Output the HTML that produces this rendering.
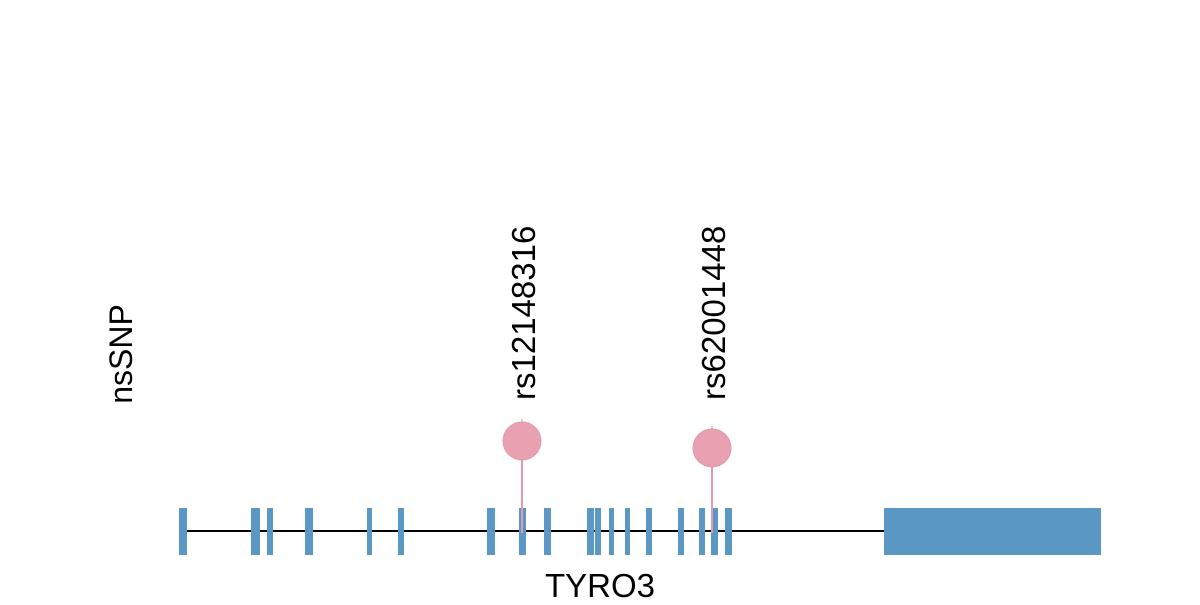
<!DOCTYPE html>
<html><head><meta charset="utf-8"><style>html,body{margin:0;padding:0;background:#fff;}</style></head>
<body>
<svg width="1200" height="600" viewBox="0 0 1200 600" xmlns="http://www.w3.org/2000/svg" font-family="Liberation Sans, Arial, sans-serif">
<rect width="1200" height="600" fill="#fff"/>
<line x1="180" y1="531" x2="884" y2="531" stroke="#000" stroke-width="2"/>
<g fill="#5b97c4">
<rect x="179" y="508" width="8" height="47"/>
<rect x="251" y="508" width="9" height="47"/>
<rect x="267" y="508" width="6" height="47"/>
<rect x="305" y="508" width="8" height="47"/>
<rect x="367" y="508" width="5" height="47"/>
<rect x="398" y="508" width="6" height="47"/>
<rect x="487" y="508" width="8" height="47"/>
<rect x="519" y="508" width="7" height="47"/>
<rect x="544" y="508" width="7" height="47"/>
<rect x="587" y="508" width="7" height="47"/>
<rect x="595" y="508" width="6" height="47"/>
<rect x="609" y="508" width="5" height="47"/>
<rect x="625" y="508" width="5" height="47"/>
<rect x="646" y="508" width="6" height="47"/>
<rect x="678" y="508" width="6" height="47"/>
<rect x="699" y="508" width="6" height="47"/>
<rect x="711" y="508" width="7" height="47"/>
<rect x="725" y="508" width="7" height="47"/>
<rect x="884" y="508" width="217" height="47"/>
</g>
<g stroke="#e89aac" stroke-width="2">
<line x1="522" y1="441" x2="522" y2="533"/>
<line x1="712" y1="448" x2="712" y2="533"/>
</g>
<line x1="522" y1="419" x2="522" y2="423" stroke="#aaa" stroke-width="1"/>
<line x1="712" y1="426" x2="712" y2="430" stroke="#aaa" stroke-width="1"/>
<circle cx="522" cy="441" r="19" fill="#e8a1b0" stroke="#e497a8" stroke-width="1"/>
<circle cx="712" cy="448" r="19" fill="#e8a1b0" stroke="#e497a8" stroke-width="1"/>
<text x="0" y="0" font-size="33" transform="translate(535,400) rotate(-90)" fill="#000">rs12148316</text>
<text x="0" y="0" font-size="33" transform="translate(725,400) rotate(-90)" fill="#000">rs62001448</text>
<text x="0" y="0" font-size="32" text-anchor="middle" transform="translate(132,354) rotate(-90)" fill="#000">nsSNP</text>
<text x="600" y="597" font-size="33" text-anchor="middle" fill="#000">TYRO3</text>
</svg>
</body></html>
